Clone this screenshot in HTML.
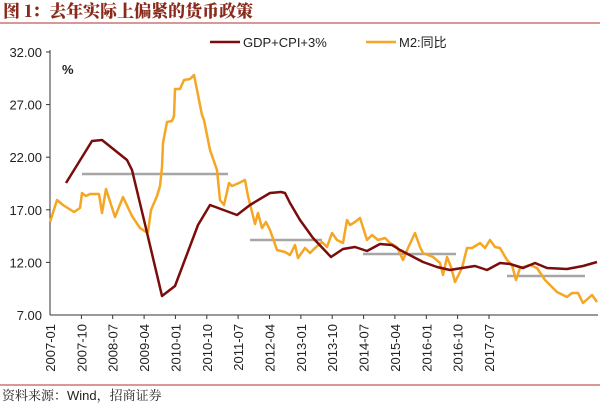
<!DOCTYPE html>
<html><head><meta charset="utf-8"><style>
body{margin:0;background:#fff;}
svg{display:block;font-family:"Liberation Sans","Noto Sans CJK SC",sans-serif;}
</style></head><body>
<svg width="600" height="405" viewBox="0 0 600 405" xmlns="http://www.w3.org/2000/svg">
<text x="3" y="17" font-family="'Noto Serif CJK SC','Liberation Serif',serif" font-weight="900" font-size="17" fill="#8a2a1a">图 1：去年实际上偏紧的货币政策</text>
<line x1="0" y1="23" x2="600" y2="23" stroke="#b03030" stroke-width="1"/>
<line x1="0" y1="385" x2="600" y2="385" stroke="#b03030" stroke-width="1"/>
<text x="2" y="400" font-family="'Noto Serif CJK SC','Liberation Sans',serif" font-size="13" fill="#222">资料来源：<tspan font-family="'Liberation Sans',sans-serif">Wind</tspan>，招商证券</text>
<g stroke="#333" stroke-width="1">
<line x1="50" y1="50" x2="50" y2="315"/>
<line x1="50" y1="315" x2="598" y2="315"/>
<line x1="46" y1="52" x2="50" y2="52"/><line x1="46" y1="104.6" x2="50" y2="104.6"/><line x1="46" y1="157.2" x2="50" y2="157.2"/><line x1="46" y1="209.8" x2="50" y2="209.8"/><line x1="46" y1="262.4" x2="50" y2="262.4"/>
<line x1="81.4" y1="315" x2="81.4" y2="319"/><line x1="112.7" y1="315" x2="112.7" y2="319"/><line x1="144.1" y1="315" x2="144.1" y2="319"/><line x1="175.4" y1="315" x2="175.4" y2="319"/><line x1="206.8" y1="315" x2="206.8" y2="319"/><line x1="238.1" y1="315" x2="238.1" y2="319"/><line x1="269.5" y1="315" x2="269.5" y2="319"/><line x1="300.9" y1="315" x2="300.9" y2="319"/><line x1="332.2" y1="315" x2="332.2" y2="319"/><line x1="363.6" y1="315" x2="363.6" y2="319"/><line x1="394.9" y1="315" x2="394.9" y2="319"/><line x1="426.3" y1="315" x2="426.3" y2="319"/><line x1="457.6" y1="315" x2="457.6" y2="319"/><line x1="489" y1="315" x2="489" y2="319"/>
</g>
<g font-size="13" fill="#222" text-anchor="end">
<text x="42" y="57">32.00</text><text x="42" y="109.6">27.00</text><text x="42" y="162.2">22.00</text><text x="42" y="214.8">17.00</text><text x="42" y="267.4">12.00</text><text x="42" y="320">7.00</text>
</g>
<text x="62" y="74" font-size="13" font-weight="bold" fill="#222">%</text>
<g font-size="13" fill="#222" text-anchor="end">
<text transform="translate(55,324) rotate(-90)">2007-01</text>
<text transform="translate(86.4,324) rotate(-90)">2007-10</text>
<text transform="translate(117.7,324) rotate(-90)">2008-07</text>
<text transform="translate(149.1,324) rotate(-90)">2009-04</text>
<text transform="translate(180.4,324) rotate(-90)">2010-01</text>
<text transform="translate(211.8,324) rotate(-90)">2010-10</text>
<text transform="translate(243.1,324) rotate(-90)">2011-07</text>
<text transform="translate(274.5,324) rotate(-90)">2012-04</text>
<text transform="translate(305.9,324) rotate(-90)">2013-01</text>
<text transform="translate(337.2,324) rotate(-90)">2013-10</text>
<text transform="translate(368.6,324) rotate(-90)">2014-07</text>
<text transform="translate(399.9,324) rotate(-90)">2015-04</text>
<text transform="translate(431.3,324) rotate(-90)">2016-01</text>
<text transform="translate(462.6,324) rotate(-90)">2016-10</text>
<text transform="translate(494,324) rotate(-90)">2017-07</text>
</g>
<g stroke="#a6a6a6" stroke-width="2.5">
<line x1="82" y1="174" x2="228" y2="174"/>
<line x1="250" y1="240" x2="322" y2="240"/>
<line x1="363" y1="254" x2="456" y2="254"/>
<line x1="507" y1="276" x2="585" y2="276"/>
</g>
<polyline fill="none" stroke="#f5a623" stroke-width="2.5" stroke-linejoin="round" points="50,222 57,200 63,205 74,212 80,208 82,193 86,196 90,194 99,194 102,213 106,189 115,217 123,197 132,216 140,228 146,232 148,232 151,210 157,196 160,186 162,167 163,143 167,122 172,121 174,116 175,89 180,89 184,80 190,79 194,75 202,115 204,120 210,150 217,170 220,200 224,205 229,183 232,186 239,183 245,180 248,196 255,224 258,213 262,228 266,222 270,230 277,250 285,252 290,255 295,245 298,258 305,248 310,253 315,248 322,242 327,247 332,233 337,240 343,243 347,220 350,225 355,222 360,218 367,240 372,235 378,240 385,238 390,243 397,247 403,260 408,248 415,233 420,247 423,253 433,257 440,263 443,275 447,257 451,267 455,282 462,268 467,248 472,248 477,245 480,243 485,248 490,240 495,247 500,248 507,260 512,265 516,280 520,268 530,265 537,268 545,280 557,292 567,297 572,293 578,293 583,303 592,295 597,302"/>
<polyline fill="none" stroke="#7b0c0c" stroke-width="2.5" stroke-linejoin="round" points="66,183 92,141 102,140 127,160 132,170 144,220 162,296 175,286 198,225 210,205 237,215 250,205 270,193 281,192 285,193 290,203 300,220 313,238 331,257 343,249 355,247 367,251 380,244 392,245 400,250 423,262 437,267 450,270 462,268 475,266 487,270 500,263 510,264 523,268 535,263 547,268 567,269 583,266 597,262"/>
<line x1="210" y1="42" x2="240" y2="42" stroke="#7b0c0c" stroke-width="2.5"/>
<text x="243" y="47" font-size="13" fill="#222">GDP+CPI+3%</text>
<line x1="366" y1="42" x2="396" y2="42" stroke="#f5a623" stroke-width="2.5"/>
<text x="399" y="47" font-size="13" fill="#222">M2:同比</text>
</svg>
</body></html>
